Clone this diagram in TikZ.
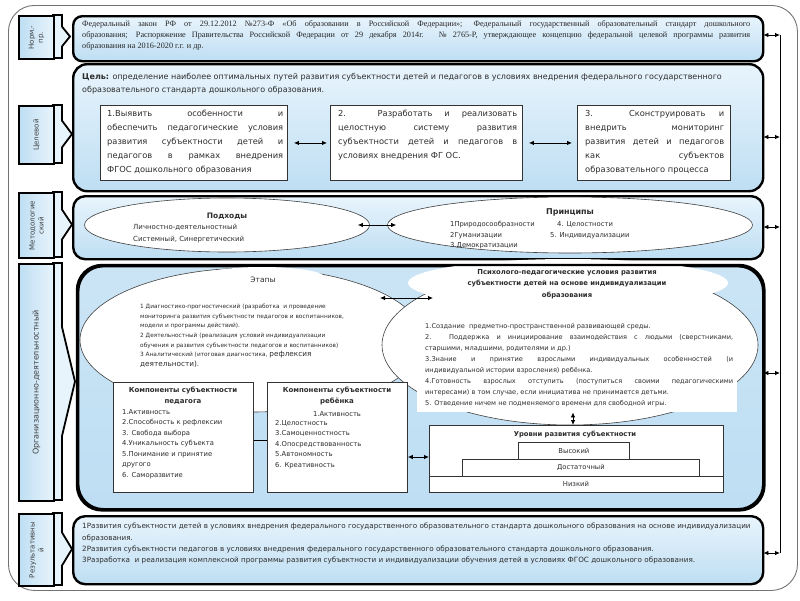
\documentclass[tikz,border=0pt]{standalone}
\usepackage{fontspec}
\setmainfont{DejaVu Sans}
\newfontfamily\serifru{Liberation Serif}
\usetikzlibrary{shapes.geometric,arrows.meta,calc}
\definecolor{lb}{RGB}{190,222,243}
\definecolor{lbl}{RGB}{232,244,252}
\definecolor{tx}{RGB}{45,45,45}
\newcommand{\myfs}[2]{\fontsize{#1}{#2}\selectfont}
\newcommand{\lblshape}[5]{%
  \pgfmathsetmacro{\ta}{#2+0.27*(#3-#2)}%
  \pgfmathsetmacro{\tb}{#3-0.27*(#3-#2)}%
  \pgfmathsetmacro{\tm}{(#2+#3)/2}%
  \path[tabshape] (53,#2) -- (62,#2) -- (62,\ta) -- (#4,\tm) -- (62,\tb) -- (62,#3) -- (53,#3) -- cycle;
  \node[lblbody, minimum height={#3-#2}, anchor=north west] (#1) at (18,#2) {};
  \node[lbltext] at (#1.center) {#5};
}
\begin{document}
\begin{tikzpicture}[x=1pt,y=-1pt,
  mainbox/.style={draw=black, line width=2.4pt, top color=lbl, bottom color=lb, anchor=north west, inner sep=0pt, rounded corners=#1},
  mainbox/.default=10pt,
  lblbody/.style={draw=black, line width=2pt, left color=lb, right color=lbl, minimum width=35pt, inner sep=0pt},
  tabshape/.style={draw=black, line width=1.8pt, fill=lbl, line join=miter},
  lbltext/.style={rotate=90, align=center, font=\myfs{7}{9}, text=black!75, inner sep=0pt},
  gbox/.style={draw=black!80, line width=0.9pt, fill=white, anchor=north west, inner sep=0pt},
  gtext/.style={anchor=north west, inner sep=0pt, align=justify, font=\myfs{8.3}{14}, text=tx},
  cbox/.style={draw=black!80, line width=0.8pt, fill=white, anchor=north west, inner sep=0pt, font=\myfs{6.8}{8}, text=tx},
  ell/.style={ellipse, draw=black!75, line width=0.6pt, fill=white, inner sep=0pt},
  dblarr/.style={{Latex[length=5pt,width=4.5pt]}-{Latex[length=5pt,width=4.5pt]}, line width=0.8pt},
  small/.style={inner sep=0pt, text=tx}
]
\useasboundingbox (0,0) rectangle (800,600);
\fill[white] (0,0) rectangle (800,600);

% outer frame
\node[draw=black!55, line width=0.9pt, rounded corners=26pt, minimum width=789pt, minimum height=585pt, anchor=north west, inner sep=0pt] (outer) at (8,5) {};

% ---------- row 1
\lblshape{l1}{15}{58}{70}{Норм.-\\пр.}
\node[mainbox=9pt, minimum width=690pt, minimum height=45pt] (norm) at (72,15) {};
\node[anchor=north west, text width=668pt, align=justify, inner sep=0pt, font=\serifru\myfs{8.2}{11}, text=black!85] (normtxt) at (82,20) {Федеральный закон РФ от 29.12.2012 №273-Ф «Об образовании в Российской Федерации»; Федеральный государственный образовательный стандарт дошкольного\linebreak образования; Распоряжение Правительства Российской Федерации от 29 декабря 2014г. № 2765-Р, утверждающее концепцию федеральной целевой программы развития\linebreak образования на 2016-2020 г.г. и др.};

% ---------- row 2
\lblshape{l2}{105}{163}{72}{Целевой}
\node[mainbox=14pt, minimum width=690pt, minimum height=127pt] (goal) at (72,63) {};
\node[anchor=north west, inner sep=0pt, align=left, font=\myfs{8}{13}, text=tx] (goaltxt) at (82,73) {\textbf{Цель:} определение наиболее оптимальных путей развития субъектности детей и педагогов в условиях внедрения федерального государственного\\образовательного стандарта дошкольного образования.};

\node[gbox, minimum width=187pt, minimum height=75pt] (g1) at (100,105) {};
\node[gbox, minimum width=192pt, minimum height=75pt] (g2) at (330,105) {};
\node[gbox, minimum width=153pt, minimum height=75pt] (g3) at (577,105) {};
\node[gtext, text width=176pt] (g1t) at (107,110) {1.Выявить особенности и\linebreak обеспечить педагогические условия\linebreak развития субъектности детей и\linebreak педагогов в рамках внедрения\linebreak ФГОС дошкольного образования};
\node[gtext, text width=179pt] (g2t) at (338,110) {2. Разработать и реализовать\linebreak целостную систему развития\linebreak субъектности детей и педагогов в\linebreak условиях внедрения ФГ ОС.};
\node[gtext, text width=139pt] (g3t) at (585,110) {3. Сконструировать и\linebreak внедрить мониторинг\linebreak развития детей и педагогов\linebreak как субъектов\linebreak образовательного процесса};
\draw[dblarr, shorten <=6pt, shorten >=3pt] (g1) -- (g2);
\draw[dblarr, shorten <=6pt, shorten >=5pt] (g2) -- (g3);

% ---------- row 3
\lblshape{l3}{192}{257}{72}{Методологие\\ский}
\node[mainbox=12pt, minimum width=690pt, minimum height=63pt] (meth) at (72,195) {};
\node[ell, minimum width=285pt, minimum height=54pt] (podh) at (227,225) {};
\node[ell, minimum width=365pt, minimum height=56pt] (princ) at (570,225) {};
\draw[dblarr, shorten <=-12pt, shorten >=-9pt] (podh) -- (princ);
\node[small, font=\bfseries\myfs{7.5}{9}] (podht) at (227,216) {Подходы};
\node[small, anchor=west, align=left, font=\myfs{7}{12}] (podhl) at (133,234) {Личностно-деятельностный\\Системный, Синергетический};
\node[small, font=\bfseries\myfs{8}{9}] (princt) at (570,212) {Принципы};
\node[small, anchor=west, align=left, font=\myfs{6.8}{10.5}] (princ1) at (450,235.5) {1Природосообразности\\2Гуманизации\\3.Демократизации};
\node[small, anchor=west, font=\myfs{6.8}{8}] (princ4) at (557,225) {4. Целостности};
\node[small, anchor=west, font=\myfs{6.8}{8}] (princ5) at (550,235.5) {5. Индивидуализации};

% ---------- row 4
\lblshape{l4}{263}{500}{75}{\myfs{8}{9}Организационно-деятельностный}
\node[mainbox=25pt, top color=lb!80!white, bottom color=lb, minimum width=685pt, minimum height=243pt] (org) at (77,265) {};
\node[ell, minimum width=344pt, minimum height=144pt] (etapy) at (252,340) {};
\fill[white] (262,277) ellipse [x radius=62pt, y radius=10pt];
\node[ell, minimum width=376pt, minimum height=160pt] (psy) at (570,345) {};
\fill[white] (568,283) ellipse [x radius=160pt, y radius=24pt];

\node[small, font=\myfs{7.5}{9}] (etapyt) at (263,280) {Этапы};
\node[small, anchor=north west, align=left, font=\myfs{5.8}{9.6}] (etapyl) at (140,304) {1 Диагностико-прогностический (разработка \ и проведение\\мониторинга развития субъектности педагогов и воспитанников,\\модели и программы действий).\\2 Деятельностный (реализация условий индивидуализации\\обучения и развития субъектности педагогов и воспитанников)\\3 Аналитический (итоговая диагностика, {\myfs{7.3}{9.6}рефлексия}\\{\myfs{7.3}{9.6}деятельности).}};

\node[small, font=\bfseries\myfs{6.8}{11.5}, align=center] (psyt) at (567,284) {Психолого-педагогические условия развития\\субъектности детей на основе индивидуализации\\образования};
\node[fill=white, anchor=north west, minimum width=320pt, minimum height=94pt, inner sep=0pt] (psytext) at (417,318) {};
\node[small, anchor=north west, text width=308pt, align=justify, font=\myfs{6.6}{11}] (psytxt) at (425,323) {1.Создание \ предметно-пространственной развивающей среды.\\2. Поддержка и инициирование взаимодействия с людьми (сверстниками,\linebreak старшими, младшими, родителями и др.)\\3.Знание и принятие взрослыми индивидуальных особенностей (и\linebreak индивидуальной истории взросления) ребёнка.\\4.Готовность взрослых отступить (поступиться своими педагогическими\linebreak интересами) в том случае, если инициатива не принимается детьми.\\5. Отведение ничем не подменяемого времени для свободной игры.};

\coordinate (ea) at (380,298);
\coordinate (pa) at (433,298);
\draw[dblarr] (ea) -- (pa);

% components
\node[cbox, minimum width=140pt, minimum height=110pt] (ped) at (113,382) {};
\node[small, anchor=north, align=center, font=\bfseries\myfs{7}{11}] (pedt) at (183,387) {Компоненты субъектности\\педагога};
\node[small, anchor=north west, align=left, font=\myfs{6.8}{10.5}] (pedl) at (122,409) {1.Активность\\2.Способность к рефлексии\\3. Свобода выбора\\4.Уникальность субъекта\\5.Понимание и принятие\\другого\\6. Саморазвитие};

\node[cbox, minimum width=140pt, minimum height=110pt] (reb) at (267,382) {};
\node[small, anchor=north, align=center, font=\bfseries\myfs{7}{11}] (rebt) at (337,387) {Компоненты субъектности\\ребёнка};
\node[small, font=\myfs{6.8}{8}] (reb1) at (337,414) {1.Активность};
\node[small, anchor=north west, align=left, font=\myfs{6.8}{10.5}] (rebl) at (275,420) {2.Целостность\\3.Самоценностность\\4.Опосредствованность\\5.Автономность\\6. Креативность};
\coordinate (cy) at (0,440);
\draw[line width=0.8pt] (ped.east |- cy) -- (reb.west |- cy);

% levels
\node[cbox, minimum width=294pt, minimum height=67pt] (urovni) at (429,425) {};
\node[small, font=\bfseries\myfs{6.8}{8}] (urt) at (575,435) {Уровни развития субъектности};
\node[cbox, minimum width=111pt, minimum height=17pt] (vys) at (518,442) {Высокий};
\node[cbox, minimum width=237pt, minimum height=17pt] (dost) at (462,459) {Достаточный};
\coordinate (ny) at (0,476);
\draw[line width=0.8pt, draw=black!80] (urovni.west |- ny) -- (urovni.east |- ny);
\node[small, font=\myfs{6.8}{8}] (niz) at (576,484) {Низкий};

\coordinate (ux) at (573,0);
\draw[dblarr] (psytext.south -| ux) -- (urovni.north -| ux);
\coordinate (uy) at (0,457);
\draw[dblarr] (reb.east |- uy) -- (urovni.west |- uy);

\draw[line width=2.4pt, rounded corners=25pt] (org.north west) rectangle (org.south east);

% ---------- row 5
\lblshape{l5}{513}{585}{72}{Результативны\\й}
\node[mainbox=12pt, minimum width=690pt, minimum height=68pt] (res) at (72,515) {};
\node[small, anchor=north west, align=left, font=\myfs{7.2}{11.3}] (restxt) at (82,523) {1Развития субъектности детей в условиях внедрения федерального государственного образовательного стандарта дошкольного образования на основе индивидуализации\\образования.\\2Развития субъектности педагогов в условиях внедрения федерального государственного образовательного стандарта дошкольного образования.\\3Разработка \ и реализация комплексной программы развития субъектности и индивидуализации обучения детей в условиях ФГОС дошкольного образования.};

% ---------- right feedback line
\coordinate (R1) at (780,35);
\coordinate (R2) at (780,137);
\coordinate (R3) at (780,227);
\coordinate (R4) at (780,373);
\coordinate (R5) at (780,553);
\draw[line width=0.8pt] (R1) -- (R5);
\draw[dblarr, shorten <=-1pt] (norm.east |- R1) -- (R1);
\draw[dblarr, shorten <=-1pt] (goal.east |- R2) -- (R2);
\draw[dblarr, shorten <=-1pt] (meth.east |- R3) -- (R3);
\draw[dblarr, shorten <=-1pt] (org.east |- R4) -- (R4);
\draw[dblarr, shorten <=-1pt] (res.east |- R5) -- (R5);
\end{tikzpicture}
\end{document}
